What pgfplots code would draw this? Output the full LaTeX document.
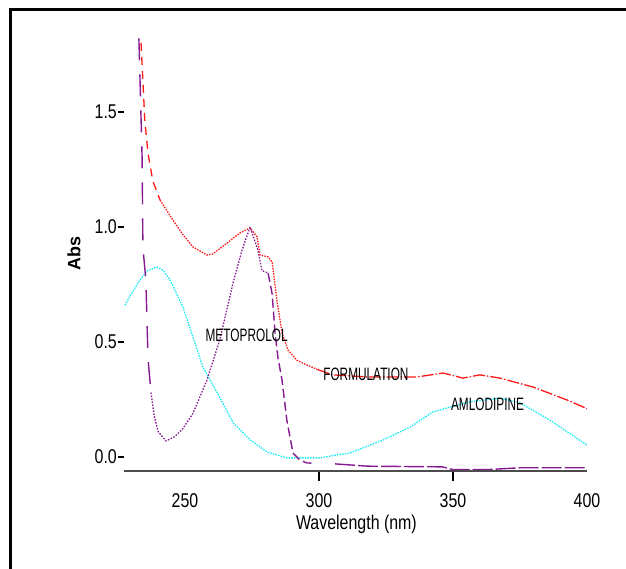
\documentclass[border=0pt]{standalone}
\usepackage{pgfplots}
\pgfplotsset{compat=1.18}
\usepackage{fontspec}
\setmainfont{Liberation Sans}
\newfontfamily\tickfont[FakeStretch=0.8]{Liberation Sans}
\newfontfamily\annfont[FakeStretch=0.66]{Liberation Sans}
\definecolor{specred}{RGB}{255,25,25}
\definecolor{specpurple}{RGB}{135,25,145}
\definecolor{speccyan}{RGB}{20,235,245}
\pgfplotsset{specframe/.style={
  scale only axis, width=463bp, height=439.5bp,
  xmin=227.24, xmax=400, ymin=-0.061, ymax=1.85,
  axis line style={-}, tick align=outside,
  tick style={black, line width=1.1bp}, clip=false}}

\begin{document}
\begin{tikzpicture}
\begin{axis}[
  specframe,
  axis x line*=bottom, axis y line*=left,
  y axis line style={draw=none},
  x axis line style={draw=black!70, line width=1.8bp},
  major tick length=6bp,
  every major x tick/.append style={draw=none},
  xtick={250,300,350,400},
  ytick={0,0.5,1.0,1.5},
  yticklabels={0.0,0.5,1.0,1.5},
  /pgf/number format/assume math mode=true,
  xticklabel style={font=\tickfont\fontsize{20}{20}\selectfont, yshift=-13bp},
  yticklabel style={font=\tickfont\fontsize{20}{20}\selectfont, inner sep=1bp},
  xlabel={Wavelength (nm)},
  xlabel style={font=\tickfont\fontsize{20}{20}\selectfont, at={(axis description cs:0.502,-0.1206)}, anchor=center},
  ylabel={Abs},
  ylabel style={font=\bfseries\fontsize{18}{18}\selectfont, at={(axis description cs:-0.108,0.494)}, anchor=center},
]
% FORMULATION
\addplot[specred, line width=1.3bp, dash pattern=on 8bp off 6bp] coordinates {
  (233.6,1.80) (235,1.465) (236.2,1.32) (238,1.20) (240.7,1.117)};
\addplot[specred, line width=1.3bp, dash pattern=on 1.5bp off 1.2bp] coordinates {
  (240.7,1.117) (245.5,1.03) (249,0.97) (253,0.913) (258.2,0.878) (260.4,0.883)
  (265.7,0.93) (270.5,0.974) (274.3,0.996) (276.9,0.957) (278,0.878) (281,0.87)
  (282.5,0.848) (284.3,0.68) (286.2,0.54) (288.4,0.465) (291.8,0.42) (295.5,0.40)
  (299.5,0.38)};
\addplot[specred, line width=1.3bp, dash pattern=on 12bp off 2bp on 1.5bp off 2bp] coordinates {
  (299.5,0.38) (305.2,0.357) (318,0.348) (336.6,0.348) (346.3,0.365) (353.7,0.343)
  (360,0.357) (367.5,0.343) (379.9,0.304) (392.5,0.248) (400,0.21)};
% AMLODIPINE
\addplot[speccyan, line width=1.3bp, dash pattern=on 1.5bp off 1.2bp] coordinates {
  (227.6,0.66) (230,0.71) (233.2,0.77) (236,0.81) (239.6,0.826) (242,0.81)
  (244.4,0.77) (249.3,0.65) (253,0.52) (256.7,0.39) (262,0.28) (268,0.148)
  (274.3,0.074) (280.6,0.022) (288,-0.004) (297.8,-0.004) (300.4,-0.004)
  (306.7,0.009) (311.6,0.017) (323.9,0.074) (334,0.13) (342.5,0.196) (348.9,0.217)
  (356.3,0.24) (367.5,0.256) (375,0.235) (386.2,0.16) (400,0.052)};
% METOPROLOL
\addplot[specpurple, line width=1.4bp, dash pattern=on 22bp off 14bp] coordinates {
  (232.8,1.82) (234,1.30) (234.3,0.91) (235.4,0.77) (236.2,0.43) (237.3,0.28)};
\addplot[specpurple, line width=1.3bp, dash pattern=on 1.5bp off 1.5bp] coordinates {
  (237.3,0.28) (238.5,0.18) (240,0.11) (242.9,0.07) (246,0.087) (249,0.12)
  (253,0.19) (258.2,0.335) (263,0.51) (268,0.76) (271.3,0.9) (274.3,1.0)
  (277.2,0.90) (278.7,0.81) (281,0.80)};
\addplot[specpurple, line width=1.4bp, dash pattern=on 9bp off 4bp] coordinates {
  (281,0.80) (282.5,0.71) (283.6,0.54) (284.7,0.43) (286.2,0.335) (288,0.16)
  (290.3,0.017) (293,-0.015) (295.5,-0.026) (297.8,-0.027)};
\addplot[specpurple, line width=1.4bp, dash pattern=on 20bp off 3bp] coordinates {
  (306,-0.03) (318,-0.04) (346,-0.043) (350,-0.055) (362.7,-0.055) (375,-0.047)
  (400,-0.047)};
% labels
\node[font=\annfont\fontsize{18}{18}\selectfont, inner sep=0pt] at (axis cs:273,0.53) {METOPROLOL};
\node[font=\annfont\fontsize{18}{18}\selectfont, inner sep=0pt] at (axis cs:317.5,0.36) {FORMULATION};
\node[font=\annfont\fontsize{18}{18}\selectfont, inner sep=0pt] at (axis cs:362.9,0.23) {AMLODIPINE};
\coordinate (O) at (rel axis cs:0,0);
\end{axis}
% tick marks only at 300 and 350
\begin{axis}[
  specframe,
  axis x line*=bottom, axis y line=none,
  x axis line style={draw=black!70, line width=1.8bp},
  xtick={300,350}, xmajorticks=false,
  minor xtick={300,350}, minor tick length=10bp,
]
\end{axis}
\path[use as bounding box] ([shift={(-124bp,-98bp)}]O) rectangle ([shift={(502bp,471bp)}]O);
\draw[line width=2.7bp] ([shift={(-113.5bp,-100bp)}]O) -- ([shift={(-113.5bp,461.7bp)}]O)
  -- ([shift={(505bp,461.7bp)}]O);
\end{tikzpicture}
\end{document}
